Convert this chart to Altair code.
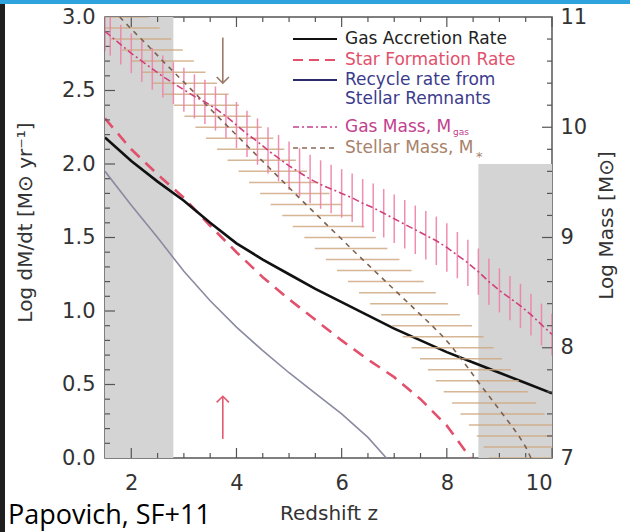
import altair as alt
import pandas as pd

# ---------------- data ----------------
# rates (left axis, log M_sun/yr) vs redshift
z_acc = [1.5, 2.0, 2.5, 3.0, 3.5, 4.0, 4.5, 5.0, 5.5, 6.0, 6.5, 7.0, 7.5, 8.0, 8.5, 9.0, 9.5, 10.0]
acc = [2.18, 2.02, 1.88, 1.75, 1.60, 1.46, 1.35, 1.25, 1.15, 1.06, 0.97, 0.88, 0.80, 0.72, 0.65, 0.58, 0.51, 0.44]

z_sfr = [1.5, 2.0, 2.5, 3.0, 3.5, 4.0, 4.5, 5.0, 5.5, 6.0, 6.5, 7.0, 7.5, 8.0, 8.45]
sfr = [2.31, 2.10, 1.93, 1.77, 1.58, 1.40, 1.23, 1.08, 0.94, 0.80, 0.67, 0.55, 0.40, 0.22, 0.0]

z_rec = [1.5, 2.0, 2.5, 3.0, 3.5, 4.0, 4.5, 5.0, 5.5, 6.0, 6.5, 6.85]
rec = [1.95, 1.72, 1.50, 1.27, 1.07, 0.89, 0.73, 0.58, 0.44, 0.30, 0.14, 0.0]

# masses (right axis, log M_sun)
z_gasm = [1.5, 1.6, 1.8, 2.0, 2.2, 2.4, 2.6, 2.8, 3.0, 3.2, 3.4, 3.6, 3.8, 4.0, 4.2, 4.4,
          4.6, 4.8, 5.0, 5.2, 5.4, 5.6, 5.8, 6.0, 6.2, 6.4, 6.6, 6.8, 7.0, 7.2, 7.4, 7.6,
          7.8, 8.0, 8.2, 8.4, 8.6, 8.8, 9.0, 9.2, 9.4, 9.6, 9.8, 10.0]
m_gas = [10.87, 10.83, 10.75, 10.67, 10.60, 10.53, 10.46, 10.40, 10.34, 10.28, 10.23, 10.17,
         10.10, 10.02, 9.94, 9.87, 9.79, 9.72, 9.65, 9.59, 9.53, 9.48, 9.44, 9.40, 9.36, 9.31,
         9.27, 9.22, 9.17, 9.12, 9.07, 9.02, 8.97, 8.91, 8.84, 8.77, 8.69, 8.60, 8.52, 8.45,
         8.38, 8.30, 8.21, 8.12]
gas_err = [0.18, 0.18, 0.18, 0.18, 0.19, 0.19, 0.19, 0.19, 0.20, 0.20, 0.20, 0.20, 0.20, 0.21,
           0.21, 0.21, 0.21, 0.21, 0.22, 0.22, 0.22, 0.22, 0.22, 0.22, 0.22, 0.22, 0.22, 0.22,
           0.22, 0.22, 0.22, 0.22, 0.22, 0.22, 0.21, 0.21, 0.21, 0.21, 0.20, 0.20, 0.20, 0.19,
           0.19, 0.19]

m_star = [11.0, 10.9, 10.8, 10.7, 10.6, 10.5, 10.4, 10.3, 10.2, 10.1, 10.0, 9.9, 9.8, 9.7,
          9.6, 9.5, 9.4, 9.3, 9.2, 9.1, 9.0, 8.9, 8.8, 8.7, 8.6, 8.5, 8.4, 8.3, 8.2, 8.1, 8.0,
          7.9, 7.8, 7.7, 7.6, 7.5, 7.4, 7.3, 7.2, 7.1, 7.0]
z_star = [1.78, 1.98, 2.19, 2.40, 2.60, 2.81, 3.02, 3.23, 3.43, 3.64, 3.85, 4.06, 4.27, 4.48,
          4.69, 4.90, 5.11, 5.32, 5.54, 5.75, 5.97, 6.18, 6.40, 6.62, 6.84, 7.06, 7.28, 7.50,
          7.72, 7.93, 8.11, 8.27, 8.43, 8.58, 8.74, 8.90, 9.06, 9.22, 9.37, 9.50, 9.60]
star_err = [0.55, 0.56, 0.57, 0.58, 0.59, 0.60, 0.61, 0.62, 0.62, 0.63, 0.63, 0.64, 0.64, 0.65,
            0.65, 0.66, 0.66, 0.67, 0.67, 0.68, 0.68, 0.69, 0.70, 0.71, 0.72, 0.73, 0.74, 0.75,
            0.76, 0.77, 0.78, 0.78, 0.79, 0.79, 0.80, 0.80, 0.80, 0.80, 0.80, 0.80, 0.80]

# shaded regions (redshift range, left-axis range)
shade_z0 = [1.5, 8.6]
shade_z1 = [2.8, 10.0]
shade_y0 = [0.0, 0.0]
shade_y1 = [3.0, 2.0]

# arrows (redshift, left-axis start, end)
arrow_z = [3.74, 3.74]
arrow_from = [2.86, 0.13]
arrow_to = [2.55, 0.42]

# ticks
x_major = [2, 4, 6, 8, 10]
x_minor = [2.5, 3, 3.5, 4.5, 5, 5.5, 6.5, 7, 7.5, 8.5, 9, 9.5]
yl_major = [0.5, 1.0, 1.5, 2.0, 2.5]
yl_minor = [0.1, 0.2, 0.3, 0.4, 0.6, 0.7, 0.8, 0.9, 1.1, 1.2, 1.3, 1.4, 1.6, 1.7, 1.8, 1.9,
            2.1, 2.2, 2.3, 2.4, 2.6, 2.7, 2.8, 2.9]
yr_major = [8, 9, 10]
yr_minor = [7.2, 7.4, 7.6, 7.8, 8.2, 8.4, 8.6, 8.8, 9.2, 9.4, 9.6, 9.8, 10.2, 10.4, 10.6, 10.8]
yl_labels = [0.0, 0.5, 1.0, 1.5, 2.0, 2.5, 3.0]
yr_labels = [7, 8, 9, 10, 11]

legend_labels = ["Gas Accretion Rate", "Star Formation Rate", "Recycle rate from",
                 "Stellar Remnants", "Gas Mass, M", "Stellar Mass, M"]

# ---------------- chart ----------------
W, H = 447, 441
FONT = "DejaVu Sans"
X = alt.Scale(domain=[1.5, 10], nice=False, zero=False)
YL = alt.Scale(domain=[0, 3], nice=False, zero=False)
YR = alt.Scale(domain=[7, 11], nice=False, zero=False)
one = pd.DataFrame({"a": [0]})

common = dict(ticks=False, domain=False, grid=False, labelFontSize=21, labelFont=FONT,
              labelColor="#333", titleFont=FONT, titleFontSize=20, titleFontWeight="normal",
              titleColor="#333")
AX_X = alt.Axis(values=x_major, format="d", labelPadding=14, title="Redshift z",
                titlePadding=10, **common)
AX_YL = alt.Axis(values=yl_labels, format=".1f", labelPadding=10,
                 title="Log dM/dt [M⊙ yr⁻¹]", titlePadding=26, titleY=205, **common)
AX_YR = alt.Axis(orient="right", values=yr_labels, format="d", labelPadding=8,
                 title="Log Mass [M⊙]", titleAngle=270, titlePadding=30, titleY=208,
                 **common)


def xq(f):
    return alt.X(f, type="quantitative", scale=X, axis=AX_X)


def yl(f):
    return alt.Y(f, type="quantitative", scale=YL, axis=AX_YL)


def yr(f):
    return alt.Y(f, type="quantitative", scale=YR, axis=AX_YR)


shade = pd.DataFrame({"z0": shade_z0, "z1": shade_z1, "y0": shade_y0, "y1": shade_y1})
shade_layer = alt.Chart(shade).mark_rect(color="#d4d4d4").encode(
    x=xq("z0"), x2="z1", y=yl("y0"), y2="y1")


def rate_line(zs, vs, color, width, dash=None):
    df = pd.DataFrame({"z": zs, "v": vs})
    kw = dict(color=color, strokeWidth=width, clip=True)
    if dash:
        kw["strokeDash"] = dash
    return alt.Chart(df).mark_line(**kw).encode(x=xq("z"), y=yl("v"))


l_rec = rate_line(z_rec, rec, "#8a8aa2", 1.6)
l_sfr = rate_line(z_sfr, sfr, "#e2506c", 2.6, [12, 8])
l_acc = rate_line(z_acc, acc, "#111111", 2.6)

arr = pd.DataFrame({"z": arrow_z, "a": arrow_from, "b": arrow_to,
                    "c": ["#9a7a68", "#e25a6e"]})
arrow_shaft = alt.Chart(arr).mark_rule(strokeWidth=1.6).encode(
    x=xq("z"), y=yl("a"), y2="b", color=alt.Color("c:N", scale=None))
arrow_down = alt.Chart(arr.iloc[[0]]).mark_point(
    shape="M-1,-1L0,0L1,-1", filled=False, size=150, strokeWidth=1.6, opacity=1).encode(
    x=xq("z"), y=yl("b"), color=alt.Color("c:N", scale=None))
arrow_up = alt.Chart(arr.iloc[[1]]).mark_point(
    shape="M-1,1L0,0L1,1", filled=False, size=150, strokeWidth=1.6, opacity=1).encode(
    x=xq("z"), y=yl("b"), color=alt.Color("c:N", scale=None))


# ticks (inward)
def xticks(vals, length):
    df = pd.DataFrame({"v": vals})
    bot = alt.Chart(df).mark_rule(color="#555", strokeWidth=1.2).encode(
        x=xq("v"), y=alt.value(H), y2=alt.value(H - length))
    top = alt.Chart(df).mark_rule(color="#555", strokeWidth=1.2).encode(
        x=xq("v"), y=alt.value(0), y2=alt.value(length))
    return [bot, top]


def yticks(vals, length, enc, right=False):
    df = pd.DataFrame({"v": vals})
    x0 = W if right else 0
    x1 = W - length if right else length
    return alt.Chart(df).mark_rule(color="#555", strokeWidth=1.2).encode(
        y=enc("v"), x=alt.value(x0), x2=alt.value(x1))


rates = alt.layer(shade_layer, l_rec, l_sfr, l_acc, arrow_shaft, arrow_down, arrow_up,
                  *xticks(x_major, 10), *xticks(x_minor, 5),
                  yticks(yl_major, 10, yl), yticks(yl_minor, 5, yl))

# masses
gas = pd.DataFrame({"z": z_gasm, "m": m_gas, "e": gas_err})
gas["lo"] = gas["m"] - gas["e"]
gas["hi"] = gas["m"] + gas["e"]
star = pd.DataFrame({"z": z_star, "m": m_star, "e": star_err})
star["lo"] = star["z"] - star["e"]
star["hi"] = star["z"] + star["e"]

star_bars = alt.Chart(star).mark_rule(color="#cfa982", strokeWidth=1.5, opacity=0.85,
                                      clip=True).encode(x=xq("lo"), x2="hi", y=yr("m"))
gas_bars = alt.Chart(gas).mark_rule(color="#ee82a8", strokeWidth=1.5, opacity=0.9,
                                    clip=True).encode(x=xq("z"), y=yr("lo"), y2="hi")
star_line = alt.Chart(star).mark_line(color="#7d6250", strokeWidth=1.6, strokeDash=[5, 5],
                                      clip=True).encode(x=xq("z"), y=yr("m"), order="m:Q")
gas_line = alt.Chart(gas).mark_line(color="#d0407c", strokeWidth=1.6,
                                    strokeDash=[7, 3, 2, 3], clip=True).encode(
    x=xq("z"), y=yr("m"))

masses = alt.layer(star_bars, gas_bars, star_line, gas_line,
                   yticks(yr_major, 10, yr, right=True), yticks(yr_minor, 5, yr, right=True))

# legend (drawn in pixel space of the plot area)
LFS = 17
leg_cols = ["#222222", "#e2506c", "#3b3b8c", "#3b3b8c", "#c2418e", "#a8826a"]
leg_y = [22, 43, 63, 82, 110, 131]
leg_line = [("#111111", 2.2, None), ("#e2506c", 2.2, [10, 6]), ("#2a2a6a", 2.2, None),
            None, ("#c2418e", 1.5, [6, 3, 2, 3]), ("#8a6a55", 1.5, [5, 4])]
legend_parts = []
for lab, col, yy, ln in zip(legend_labels, leg_cols, leg_y, leg_line):
    legend_parts.append(alt.Chart(pd.DataFrame({"t": [lab]})).mark_text(
        align="left", baseline="middle", font=FONT, fontSize=LFS, color=col).encode(
        text="t:N", x=alt.value(240), y=alt.value(yy)))
    if ln is not None:
        kw = dict(color=ln[0], strokeWidth=ln[1])
        if ln[2]:
            kw["strokeDash"] = ln[2]
        legend_parts.append(alt.Chart(one).mark_rule(**kw).encode(
            x=alt.value(188), x2=alt.value(232), y=alt.value(yy)))
legend_parts.append(alt.Chart(pd.DataFrame({"t": ["gas"]})).mark_text(
    align="left", baseline="middle", font=FONT, fontSize=9, color="#c2418e").encode(
    text="t:N", x=alt.value(348), y=alt.value(115)))
legend_parts.append(alt.Chart(pd.DataFrame({"t": ["*"]})).mark_text(
    align="left", baseline="middle", font=FONT, fontSize=13, color="#a8826a").encode(
    text="t:N", x=alt.value(371), y=alt.value(140)))

# decorations: top blue band, left dark strip, caption
deco = [
    alt.Chart(one).mark_rect(color="#2fa3dd").encode(
        x=alt.value(-105), x2=alt.value(525), y=alt.value(-17), y2=alt.value(-13)),
    alt.Chart(one).mark_rect(color="#1f1f1f").encode(
        x=alt.value(-105), x2=alt.value(-100), y=alt.value(-13), y2=alt.value(515)),
    alt.Chart(pd.DataFrame({"t": ["Papovich, SF+11"]})).mark_text(
        align="left", baseline="middle", font="Open Sans", fontSize=27, color="#000").encode(
        text="t:N", x=alt.value(-97), y=alt.value(499)),
]

chart = alt.layer(rates, masses, *legend_parts, *deco).resolve_scale(
    y="independent").properties(
    width=W, height=H, background="white",
    autosize=alt.AutoSizeParams(type="none"),
    padding={"left": 105, "top": 17, "right": 78, "bottom": 74},
).configure_view(stroke="#555", strokeWidth=1.5)

chart.save("out.html", embed_options={"renderer": "svg", "actions": False})
